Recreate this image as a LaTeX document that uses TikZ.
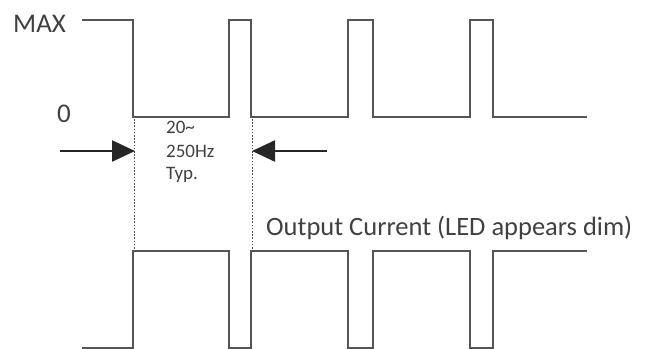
\documentclass[tikz,border=0pt]{standalone}
\usepackage{fontspec}
\setmainfont{Carlito}
\usetikzlibrary{arrows.meta}
\definecolor{wave}{HTML}{555555}
\definecolor{txt}{HTML}{404040}
\tikzset{
  wavel/.style={draw=wave, line width=2.2pt, line join=miter},
  guide/.style={draw=wave, line width=1.1pt, dash pattern=on 1.6pt off 1.6pt},
  bigarrow/.style={draw=black!85, line width=2.4pt, -{Triangle[length=23pt,width=21pt]}},
  lbl/.style={text=txt, inner sep=0pt, font=\fontsize{27}{30}\selectfont},
  small/.style={text=txt, inner sep=0pt, anchor=base west, font=\fontsize{19}{23}\selectfont},
}
\begin{document}
\begin{tikzpicture}[x=1pt,y=-1pt]
\useasboundingbox (0,0) rectangle (647,348);
% top waveform
\draw[wavel] (82,20) -- (133,20) -- (133,117) -- (229,117) -- (229,20) -- (251,20) -- (251,117)
  -- (348,117) -- (348,20) -- (373,20) -- (373,117) -- (470,117) -- (470,20) -- (493,20) -- (493,117) -- (587,117);
% bottom waveform
\draw[wavel] (82,348) -- (133,348) -- (133,251) -- (229,251) -- (229,348) -- (251,348) -- (251,251)
  -- (348,251) -- (348,348) -- (373,348) -- (373,251) -- (470,251) -- (470,348) -- (493,348) -- (493,251) -- (587,251);
% guides
\coordinate (g1t) at (134.5,119);
\coordinate (g1b) at (134.5,250);
\coordinate (g2t) at (252.5,119);
\coordinate (g2b) at (252.5,250);
\draw[guide] (g1t) -- (g1b);
\draw[guide] (g2t) -- (g2b);
% arrows
\coordinate (a1s) at (60,151);
\coordinate (a1e) at (135,151);
\coordinate (a2s) at (327,151);
\coordinate (a2e) at (252,151);
\draw[bigarrow] (a1s) -- (a1e);
\draw[bigarrow] (a2s) -- (a2e);
% labels
\node[lbl, anchor=base west] (max) at (13,32) {MAX};
\node[lbl, anchor=base west] (zero) at (57,122) {0};
\node[small] (f1) at (166,133) {20\char"7E};
\node[small] (f2) at (166,157) {250Hz};
\node[small] (f3) at (166,179) {Typ.};
\node[lbl, anchor=base west, font=\fontsize{26.5}{30}\selectfont] (out) at (266,235) {Output Current (LED appears dim)};
\end{tikzpicture}
\end{document}
